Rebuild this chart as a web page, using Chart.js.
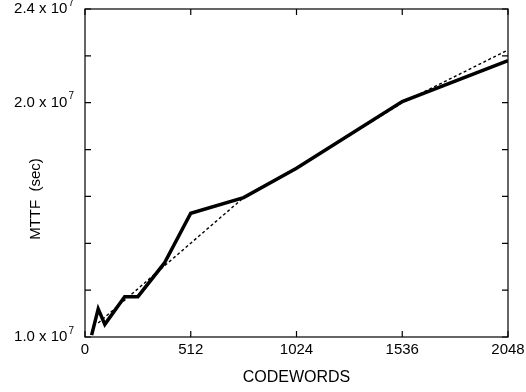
<!DOCTYPE html>
<html>
<head>
<meta charset="utf-8">
<script src="https://cdn.jsdelivr.net/npm/chart.js@4"></script>
<style>
  body { margin: 0; background: #fff; }
  #chart { display: block; }
</style>
</head>
<body>
<canvas id="chart" width="526" height="392"></canvas>
<script>
// data (MTTF in units of 1e7 sec)
const codewords = [32, 64, 96, 192, 256, 384, 512, 768, 1024, 1536, 2048];
const mttf = [1.008, 1.12, 1.054, 1.172, 1.172, 1.315, 1.528, 1.595, 1.72, 2.005, 2.18];

// dotted reference curve
const fitCodewords = [64, 768, 1024, 1536, 2048];
const fitMttf = [1.06, 1.595, 1.72, 2.0, 2.225];

const xTicks = [0, 512, 1024, 1536, 2048];
const yLabels = { "1.0": "1.0 x 10", "2.0": "2.0 x 10", "2.4": "2.4 x 10" };

const FONT = "'Liberation Sans', Arial, Helvetica, sans-serif";

// ticks pointing into the plot on all four sides, the frame, y labels and title
const frameTicks = {
  id: "frameTicks",
  afterDraw(chart) {
    const { ctx, chartArea: a, scales } = chart;
    ctx.save();
    ctx.strokeStyle = "#000";
    ctx.lineWidth = 1.2;
    ctx.strokeRect(a.left, a.top, a.right - a.left, a.bottom - a.top);
    const len = 6;
    ctx.beginPath();
    scales.x.ticks.forEach(t => {
      const px = scales.x.getPixelForValue(t.value);
      ctx.moveTo(px, a.bottom); ctx.lineTo(px, a.bottom - len);
      ctx.moveTo(px, a.top); ctx.lineTo(px, a.top + len);
    });
    scales.y.ticks.forEach(t => {
      const py = scales.y.getPixelForValue(t.value);
      ctx.moveTo(a.left, py); ctx.lineTo(a.left + len, py);
      ctx.moveTo(a.right, py); ctx.lineTo(a.right - len, py);
    });
    ctx.stroke();

    // y tick labels with a raised exponent
    ctx.fillStyle = "#000";
    ctx.textBaseline = "middle";
    scales.y.ticks.forEach(t => {
      const txt = yLabels[t.value.toFixed(1)];
      if (!txt) return;
      const py = scales.y.getPixelForValue(t.value);
      ctx.font = "10px " + FONT;
      ctx.textAlign = "right";
      ctx.fillText("7", a.left - 11, py - 6);
      const w = ctx.measureText("7").width;
      ctx.font = "15px " + FONT;
      ctx.fillText(txt, a.left - 12 - w, py);
    });

    // y axis title
    ctx.translate(36, 199);
    ctx.rotate(-Math.PI / 2);
    ctx.font = "15px " + FONT;
    ctx.textAlign = "center";
    ctx.fillText("MTTF  (sec)", 0, 0);
    ctx.restore();
  }
};

const ctx = document.getElementById("chart").getContext("2d");

new Chart(ctx, {
  type: "line",
  data: {
    datasets: [
      {
        data: codewords.map((c, i) => ({ x: c, y: mttf[i] })),
        borderColor: "#000",
        borderWidth: 3.5,
        pointRadius: 0,
        tension: 0,
        borderJoinStyle: "miter"
      },
      {
        data: fitCodewords.map((c, i) => ({ x: c, y: fitMttf[i] })),
        borderColor: "#000",
        borderWidth: 1.4,
        borderDash: [3, 2.5],
        pointRadius: 0,
        tension: 0
      }
    ]
  },
  options: {
    responsive: false,
    animation: false,
    devicePixelRatio: 1,
    layout: { padding: { top: 9, right: 18, left: 0, bottom: 0 } },
    plugins: { legend: { display: false }, tooltip: { enabled: false } },
    scales: {
      x: {
        type: "linear",
        min: 0,
        max: 2048,
        afterBuildTicks: s => { s.ticks = xTicks.map(v => ({ value: v })); },
        ticks: {
          color: "#000",
          font: { family: FONT, size: 15 },
          padding: -4,
          maxRotation: 0,
          callback: v => String(v)
        },
        grid: { display: false },
        border: { display: false },
        title: {
          display: true,
          text: "CODEWORDS",
          color: "#000",
          font: { family: FONT, size: 16 },
          padding: { top: 0, bottom: 5 }
        },
        afterFit: s => { s.height = 55; s.paddingRight = 0; s.paddingLeft = 0; }
      },
      y: {
        min: 1.0,
        max: 2.4,
        ticks: { stepSize: 0.2, display: false },
        grid: { display: false },
        border: { display: false },
        afterFit: s => { s.width = 85; }
      }
    }
  },
  plugins: [frameTicks]
});
</script>
</body>
</html>
